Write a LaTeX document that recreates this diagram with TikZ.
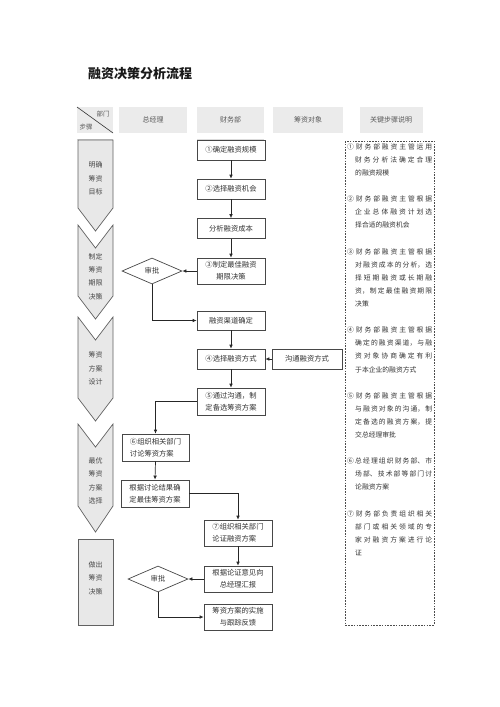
\documentclass[tikz,border=0pt]{standalone}
\usepackage{fontspec}
\setmainfont{Noto Sans CJK SC}
\usetikzlibrary{arrows.meta,shapes.geometric,calc}
\begin{document}
\begin{tikzpicture}[x=1pt,y=-1pt,
  box/.style={draw=black!72, line width=0.7pt, fill=white, inner sep=1pt,
    font=\fontsize{7.3}{12}\selectfont, text=black!80, align=center},
  dia/.style={diamond, draw=black!72, line width=0.7pt, fill=white, minimum width=60pt,
    minimum height=26pt, inner sep=0pt, font=\fontsize{7.3}{8}\selectfont, text=black!80},
  arr/.style={draw=black!85, line width=0.7pt, -{Latex[length=4pt,width=3.6pt]}},
  hdr/.style={fill=black!8, inner sep=0pt, minimum height=26pt,
    font=\fontsize{7}{8}\selectfont, text=black!65},
  lane/.style={fill=black!9, draw=black!62, line width=0.7pt},
  lanetxt/.style={font=\fontsize{7}{13.4}\selectfont, text=black!72, align=center, inner sep=0pt}]
\useasboundingbox (0,0) rectangle (500,707);

% title
\node[anchor=west, inner sep=0pt, font=\fontsize{13}{13}\selectfont\bfseries, text=black!90] (title) at (88,74) {融资决策分析流程};

% header
\fill[black!8] (77,107) rectangle (113,133);
\draw[black!80, line width=0.6pt] (77,107) -- (113,133);
\node[font=\fontsize{6.5}{7}\selectfont, text=black!65, inner sep=0pt] (hbm) at (103,114) {部门};
\node[font=\fontsize{6.5}{7}\selectfont, text=black!65, inner sep=0pt] (hbz) at (86,127) {步骤};
\node[hdr, minimum width=68pt] (h1) at (153,120) {总经理};
\node[hdr, minimum width=67pt] (h2) at (230.5,120) {财务部};
\node[hdr, minimum width=70pt] (h3) at (308,120) {筹资对象};
\node[hdr, minimum width=63pt] (h4) at (391,120) {关键步骤说明};
\draw[black!14, line width=1.2pt] (77,139.5) -- (113,139.5);
\draw[black!14, line width=1.2pt] (197,139.5) -- (264,139.5);

% left lane shapes
\draw[lane] (78,140) -- (113,140) -- (113,208) -- (95.5,231) -- (78,208) -- cycle;
\node[lanetxt] (s1) at (95.5,178.5) {明确\\筹资\\目标};
\draw[lane] (78,225) -- (95.5,248) -- (113,225) -- (113,296) -- (95.5,319) -- (78,296) -- cycle;
\node[lanetxt] (s2) at (95.5,276.5) {制定\\筹资\\期限\\决策};
\draw[lane] (78,317) -- (95.5,340) -- (113,317) -- (113,398) -- (95.5,421) -- (78,398) -- cycle;
\node[lanetxt] (s3) at (95.5,368.5) {筹资\\方案\\设计};
\draw[lane] (78,424) -- (95.5,447) -- (113,424) -- (113,506) -- (95.5,532) -- (78,506) -- cycle;
\node[lanetxt] (s4) at (95.5,481) {最优\\筹资\\方案\\选择};
\draw[lane] (78,539) rectangle (113,625);
\node[lanetxt] (s5) at (95.5,578) {做出\\筹资\\决策};

% flow boxes
\node[box, minimum width=68pt, minimum height=20pt] (b1) at (231,150) {①确定融资规模};
\node[box, minimum width=68pt, minimum height=20pt] (b2) at (231,189) {②选择融资机会};
\node[box, minimum width=68pt, minimum height=20pt] (b3) at (231,228.5) {分析融资成本};
\node[box, minimum width=68pt, minimum height=26pt] (b4) at (231,271) {③制定最佳融资\\期限决策};
\node[dia] (d1) at (152,271) {审批};
\node[box, minimum width=68pt, minimum height=19pt] (b5) at (231,320.5) {融资渠道确定};
\node[box, minimum width=68pt, minimum height=20pt] (b6) at (231,359) {④选择融资方式};
\node[box, minimum width=70pt, minimum height=20pt] (b7) at (307,359) {沟通融资方式};
\node[box, minimum width=68pt, minimum height=27pt] (b8) at (231,401.5) {⑤通过沟通，制\\定备选筹资方案};
\node[box, minimum width=67pt, minimum height=27pt, align=left] (b9) at (155.5,447.5) {⑥组织相关部门\\讨论筹资方案\hspace{7.3pt}};
\node[box, minimum width=68pt, minimum height=27pt] (b10) at (155,493.5) {根据讨论结果确\\定最佳筹资方案};
\node[box, minimum width=68pt, minimum height=26pt, align=left] (b11) at (238,533) {⑦组织相关部门\\论证融资方案\hspace{7.3pt}};
\node[box, minimum width=68pt, minimum height=26pt] (b12) at (238,579) {根据论证意见向\\总经理汇报};
\node[dia] (d2) at (158,579) {审批};
\node[box, minimum width=68pt, minimum height=26pt] (b13) at (238,617) {筹资方案的实施\\与跟踪反馈};

% connectors
\draw[arr] (b1.south) -- (b2.north);
\draw[arr] (b2.south) -- (b3.north);
\draw[arr] (b3.south) -- (b4.north);
\draw[arr] (b4.west) -- (d1.east);
\draw[arr] (d1.south) |- (b5.west);
\draw[arr] (b5.south) -- (b6.north);
\draw[arr] (b7.west) -- (b6.east);
\draw[arr] (b6.south) -- (b8.north);
\draw[arr] (b8.west) -| (b9.north);
\draw[arr] (b9.south) -- (b10.north);
\draw[arr] (b10.east) -| (b11.north);
\draw[arr] (b11.south) -- (b12.north);
\draw[arr] (b12.west) -- (d2.east);
\draw[arr] (d2.south) |- (b13.west);

% notes
\draw[black!70, line width=0.7pt, dash pattern=on 1.6pt off 1.2pt] (345,141) rectangle (434,625);
\node[anchor=north west, inner sep=0pt, text width=85pt, align=justify,
  font=\fontsize{6.8}{13.1}\selectfont, text=black!80] (notes) at (347,143.4) {%
\XeTeXlinebreaklocale "zh"\XeTeXlinebreakskip=0pt plus 4pt\parskip=0pt\parindent=0pt
\noindent\hangindent=8pt\hangafter=1 ①财务部融资主管运用\linebreak 财务分析法确定合理\linebreak 的融资规模\par\vskip13.1pt
\noindent\hangindent=8pt\hangafter=1 ②财务部融资主管根据\linebreak 企业总体融资计划选\linebreak 择合适的融资机会\par\vskip13.1pt
\noindent\hangindent=8pt\hangafter=1 ③财务部融资主管根据\linebreak 对融资成本的分析，选\linebreak 择短期融资或长期融\linebreak 资，制定最佳融资期限\linebreak 决策\par\vskip13.1pt
\noindent\hangindent=8pt\hangafter=1 ④财务部融资主管根据\linebreak 确定的融资渠道，与融\linebreak 资对象协商确定有利\linebreak 于本企业的融资方式\par\vskip13.1pt
\noindent\hangindent=8pt\hangafter=1 ⑤财务部融资主管根据\linebreak 与融资对象的沟通，制\linebreak 定备选的融资方案，提\linebreak 交总经理审批\par\vskip13.1pt
\noindent\hangindent=8pt\hangafter=1 ⑥总经理组织财务部、市\linebreak 场部、技术部等部门讨\linebreak 论融资方案\par\vskip13.1pt
\noindent\hangindent=8pt\hangafter=1 ⑦财务部负责组织相关\linebreak 部门或相关领域的专\linebreak 家对融资方案进行论\linebreak 证\par}; 
\end{tikzpicture}
\end{document}
